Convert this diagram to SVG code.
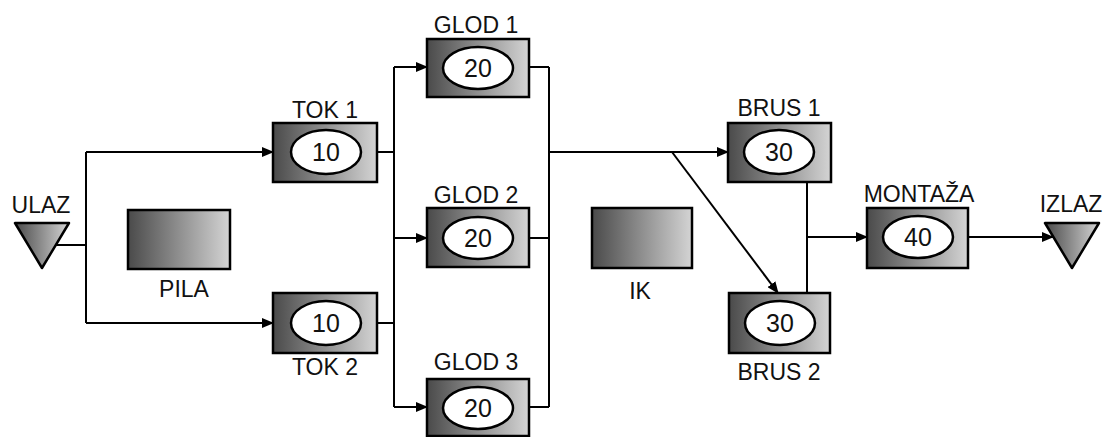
<svg xmlns="http://www.w3.org/2000/svg" width="1105" height="437" viewBox="0 0 1105 437">
<style>
.box{stroke:#000;stroke-width:2.5;fill:url(#g)}
.ell{fill:#fff;stroke:#000;stroke-width:2.5}
.lbl{font-family:"Liberation Sans",Arial,sans-serif;font-size:23px;fill:#111;text-anchor:middle}
.num{font-family:"Liberation Sans",Arial,sans-serif;font-size:25px;fill:#111;text-anchor:middle}
.ln{fill:none;stroke:#000;stroke-width:2}
.ar{fill:none;stroke:#000;stroke-width:2;marker-end:url(#ah)}
</style>
<defs>
<linearGradient id="g" x1="0" y1="0" x2="1" y2="0">
<stop offset="0" stop-color="#4a4a4a"/>
<stop offset="1" stop-color="#d4d4d4"/>
</linearGradient>
<marker id="ah" markerWidth="12" markerHeight="10" refX="11" refY="5" orient="auto" markerUnits="userSpaceOnUse">
<path d="M0,0 L12,5 L0,10 Z" fill="#000"/>
</marker>
</defs>
<rect width="1105" height="437" fill="#fff"/>
<g id="connectors">
<path class="ln" d="M56,245 H86 M86,152 V323"/>
<path class="ar" d="M86,152 H273"/>
<path class="ar" d="M86,323 H273"/>
<path class="ln" d="M377,152 H394 M377,323 H394 M394,67 V407"/>
<path class="ar" d="M394,67 H427"/>
<path class="ar" d="M394,238 H427"/>
<path class="ar" d="M394,407 H427"/>
<path class="ln" d="M529,67 H549 M529,238 H549 M529,407 H549 M549,67 V407"/>
<path class="ar" d="M549,152 H728"/>
<path class="ar" d="M672,152 L778,293"/>
<path class="ln" d="M807,182 V293"/>
<path class="ar" d="M807,237 H867"/>
<path class="ar" d="M968,237 H1053"/>
</g>
<g id="ulaz">
<polygon points="15,223 69,223 42,268" class="box" stroke-linejoin="round"/>
<text class="lbl" x="41" y="213">ULAZ</text>
</g>
<g id="tok1">
<text class="lbl" x="325" y="118">TOK 1</text>
<rect class="box" x="273" y="123" width="104" height="59"/>
<ellipse class="ell" cx="326" cy="152" rx="35" ry="22"/>
<text class="num" x="326" y="161">10</text>
</g>
<g id="tok2">
<rect class="box" x="273" y="293" width="104" height="60"/>
<ellipse class="ell" cx="326" cy="323" rx="35" ry="22"/>
<text class="num" x="326" y="332">10</text>
<text class="lbl" x="325" y="375">TOK 2</text>
</g>
<g id="pila">
<rect class="box" x="128" y="210" width="102" height="59"/>
<text class="lbl" x="184" y="297">PILA</text>
</g>
<g id="glod1">
<text class="lbl" x="476" y="33">GLOD 1</text>
<rect class="box" x="427" y="39" width="102" height="58"/>
<ellipse class="ell" cx="478" cy="68" rx="35" ry="21"/>
<text class="num" x="478" y="77">20</text>
</g>
<g id="glod2">
<text class="lbl" x="476" y="203">GLOD 2</text>
<rect class="box" x="427" y="208" width="102" height="59"/>
<ellipse class="ell" cx="478" cy="238" rx="35" ry="21"/>
<text class="num" x="478" y="247">20</text>
</g>
<g id="glod3">
<text class="lbl" x="476" y="370">GLOD 3</text>
<rect class="box" x="427" y="379" width="102" height="57"/>
<ellipse class="ell" cx="478" cy="408" rx="35" ry="21"/>
<text class="num" x="478" y="417">20</text>
</g>
<g id="ik">
<rect class="box" x="592" y="208" width="100" height="60"/>
<text class="lbl" x="640" y="299">IK</text>
</g>
<g id="brus1">
<text class="lbl" x="779" y="116">BRUS 1</text>
<rect class="box" x="728" y="123" width="103" height="59"/>
<ellipse class="ell" cx="779" cy="152" rx="35" ry="22"/>
<text class="num" x="779" y="161">30</text>
</g>
<g id="brus2">
<rect class="box" x="729" y="293" width="101" height="60"/>
<ellipse class="ell" cx="780" cy="323" rx="35" ry="22"/>
<text class="num" x="780" y="332">30</text>
<text class="lbl" x="779" y="380">BRUS 2</text>
</g>
<g id="montaza">
<text class="lbl" x="919" y="202">MONTAŽA</text>
<rect class="box" x="867" y="208" width="101" height="60"/>
<ellipse class="ell" cx="918" cy="237" rx="35" ry="21"/>
<text class="num" x="918" y="246">40</text>
</g>
<g id="izlaz">
<polygon points="1045,223 1099,223 1072,268" class="box" stroke-linejoin="round"/>
<text class="lbl" x="1071" y="212">IZLAZ</text>
</g>
</svg>
